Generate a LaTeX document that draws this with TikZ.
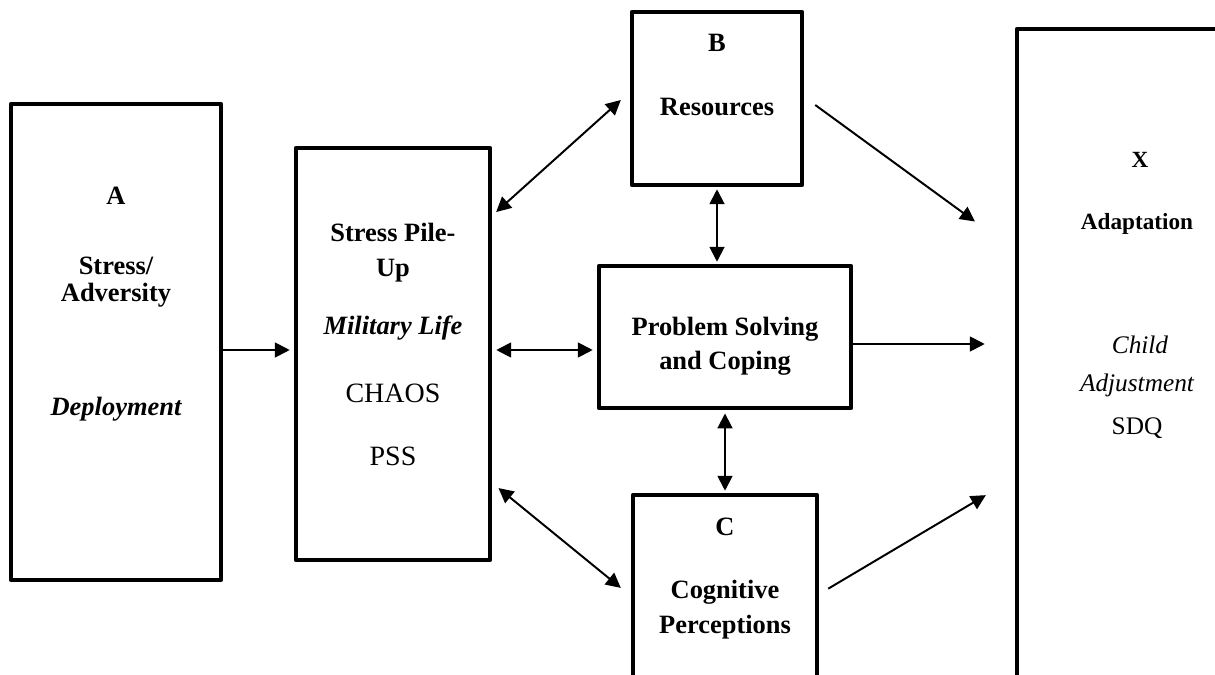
\documentclass[tikz,border=0pt]{standalone}
\usepackage{fontspec}
\setmainfont{Liberation Serif}
\usetikzlibrary{arrows.meta}

\tikzset{
  box/.style={draw, line width=3.2pt, line join=round, inner sep=0pt},
  arr/.style={line width=1.4pt, -{Triangle[length=0.37cm,width=0.37cm]}},
  darr/.style={line width=1.4pt, {Triangle[length=0.37cm,width=0.37cm]}-{Triangle[length=0.37cm,width=0.37cm]}},
  hd/.style={anchor=base, inner sep=0pt, font=\fontsize{18.8}{22}\selectfont\bfseries},
  hdit/.style={hd, font=\fontsize{18.8}{22}\selectfont\bfseries\itshape},
  txt/.style={anchor=base, inner sep=0pt, font=\fontsize{19.9}{24}\selectfont},
  txtit/.style={txt, font=\fontsize{19.9}{24}\selectfont\itshape},
  xhd/.style={anchor=base, inner sep=0pt, font=\fontsize{16.5}{20}\selectfont\bfseries},
  xtxt/.style={anchor=base, inner sep=0pt, font=\fontsize{18}{22}\selectfont},
  xtxtit/.style={xtxt, font=\fontsize{18}{22}\selectfont\itshape}
}

\begin{document}
\begin{tikzpicture}[x=0.025cm, y=-0.025cm]
\useasboundingbox (0,0) rectangle (1215,675);
\clip (0,0) rectangle (1215,675);

% boxes
\node[box, minimum width=5.25cm, minimum height=11.9cm] (A) at (116,342) {};
\node[box, minimum width=4.85cm, minimum height=10.3cm] (pile) at (393,354) {};
\node[box, minimum width=4.25cm, minimum height=4.325cm] (res) at (717,98.5) {};
\node[box, minimum width=6.3cm, minimum height=3.55cm] (cope) at (725,337) {};
\node[box, minimum width=4.6cm, minimum height=5cm] (cog) at (725,595) {};
\node[box, minimum width=5.45cm, minimum height=16.65cm] (X) at (1126,362) {};

% texts
\node[hd] (a-let) at (116,205) {A};
\node[hd] (a-t1) at (116,275) {Stress/};
\node[hd] (a-t2) at (116,302) {Adversity};
\node[hdit] (a-t3) at (116,415) {Deployment};

\node[hd] (p-t1) at (393,242) {Stress Pile-};
\node[hd] (p-t2) at (393,277) {Up};
\node[hdit] (p-t3) at (393,334) {Military Life};
\node[txt] (p-t4) at (393,402) {CHAOS};
\node[txt] (p-t5) at (393,465) {PSS};

\node[hd] (b-let) at (717,52) {B};
\node[hd] (b-t1) at (717,116) {Resources};

\node[hd] (s-t1) at (725,335) {Problem Solving};
\node[hd] (s-t2) at (725,369) {and Coping};

\node[hd] (c-let) at (725,535) {C};
\node[hd] (c-t1) at (725,598) {Cognitive};
\node[hd] (c-t2) at (725,633) {Perceptions};

\node[xhd] (x-let) at (1140,168) {X};
\node[xhd] (x-t1) at (1137,230) {Adaptation};
\node[xtxtit] (x-t2) at (1140,353) {Child};
\node[xtxtit] (x-t3) at (1137,391) {Adjustment};
\node[xtxt] (x-t4) at (1137,434) {SDQ};

% arrows
\draw[arr, shorten >=0.1cm] (A.east |- 0,350) -- (pile.west |- 0,350);
\draw[darr, shorten <=0.13cm, shorten >=0.3cm] (pile.east |- 0,215.5) -- (res.west |- 0,92);
\draw[darr, shorten <=0.1cm, shorten >=0.1cm] (pile.east |- 0,350) -- (cope.west |- 0,350);
\draw[darr, shorten <=0.2cm, shorten >=0.32cm] (pile.east |- 0,483) -- (cog.west |- 0,596);
\draw[darr, shorten <=0.05cm, shorten >=0.05cm] (res.south) -- (res.south |- cope.north);
\draw[darr, shorten <=0.08cm, shorten >=0.05cm] (cope.south) -- (cog.north);
\draw[arr, shorten <=0.34cm, shorten >=1.23cm] (res.east |- 0,97) -- (X.west |- 0,250.5);
\draw[arr, shorten >=0.75cm] (cope.east |- 0,344) -- (X.west |- 0,344);
\draw[arr, shorten <=0.26cm, shorten >=0.84cm] (cog.east |- 0,594) -- (X.west |- 0,478);

\end{tikzpicture}
\end{document}
